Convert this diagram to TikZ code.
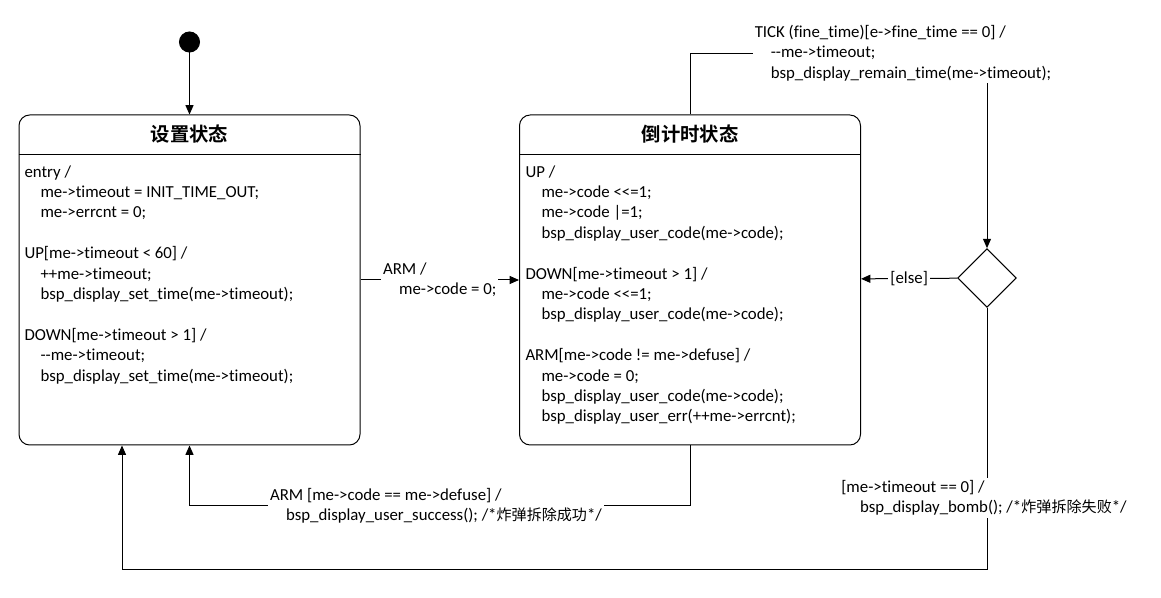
\documentclass[tikz,border=0pt]{standalone}
\usepackage{fontspec}
\setmainfont{Carlito}[Ligatures={TeXOff,CommonOff}]
\newfontfamily\cjk{Noto Sans CJK SC}[BoldFont={Noto Sans CJK SC Bold}]
\usetikzlibrary{arrows.meta,positioning,shapes.geometric}
\tikzset{every picture/.style={line width=0.75pt}}
\newcommand{\codefont}{\fontsize{12.6}{15.3}\selectfont}
\newcommand{\ind}{\hspace*{12pt}}
\newcommand{\zh}[1]{{\cjk\fontsize{11.3}{15.3}\selectfont #1}}
\tikzstyle{circ}=[circle,fill=black,draw,inner sep=0pt,minimum size=15pt]
\tikzstyle{state}=[draw,rounded corners=8pt,minimum width=255.75pt,minimum height=247.5pt]
\tikzstyle{junc}=[diamond,draw,inner sep=0pt,minimum size=44pt]
\tikzstyle{title}=[font=\cjk\bfseries\fontsize{14.5}{17}\selectfont]
\tikzstyle{body}=[align=left,inner sep=0pt,anchor=north west,font=\codefont]
\tikzstyle{lbl}=[fill=white,align=left,inner sep=1.5pt,font=\codefont]

\begin{document}
\begin{tikzpicture}[x=0.75pt,y=-0.75pt,>={Triangle[length=7pt,width=6pt]}]
\useasboundingbox (0,0) rectangle (1161,598);
\node[circ] (init) at (189.5,42) {};
\node[state] (set) at (189.5,280) {};
\node[state] (count) at (690,280) {};
\node[junc] (choice) at (987,278) {};
\draw ([yshift=-30pt]set.north west) -- ([yshift=-30pt]set.north east);
\draw ([yshift=-30pt]count.north west) -- ([yshift=-30pt]count.north east);
\node[title] (settitle) at (189.5,134) {设置状态};
\node[title] (counttitle) at (690,134) {倒计时状态};
\node[body] (setbody) at (24,165) {entry /\\
\ind me->timeout = INIT\_TIME\_OUT;\\
\ind me->errcnt = 0;\\[15.3pt]
UP[me->timeout < 60] /\\
\ind ++me->timeout;\\
\ind bsp\_display\_set\_time(me->timeout);\\[15.3pt]
DOWN[me->timeout > 1] /\\
\ind --me->timeout;\\
\ind bsp\_display\_set\_time(me->timeout);};
\node[body] (countbody) at (525,165) {UP /\\
\ind me->code <<=1;\\
\ind me->code |=1;\\
\ind bsp\_display\_user\_code(me->code);\\[15.3pt]
DOWN[me->timeout > 1] /\\
\ind me->code <<=1;\\
\ind bsp\_display\_user\_code(me->code);\\[15.3pt]
ARM[me->code != me->defuse] /\\
\ind me->code = 0;\\
\ind bsp\_display\_user\_code(me->code);\\
\ind bsp\_display\_user\_err(++me->errcnt);};
\path[->]
(init) edge (set)
(set) edge node[lbl] {ARM /\\ \ind me->code = 0;} (count)
(choice) edge node[lbl] {[else]} (count);
% TICK loop to the choice
\coordinate (tickL) at (690,54);
\coordinate (tickR) at (987,54);
\draw[->] (count.north) -- (tickL) -- (tickR) -- (choice.north);
\node[lbl] (ticklbl) at (903,53) {TICK (fine\_time)[e->fine\_time == 0] /\\
\ind --me->timeout;\\
\ind bsp\_display\_remain\_time(me->timeout);};
% defused
\coordinate (succC) at (189.5,506);
\draw[->] (count.south) |- (succC) -- (set.south);
\node[lbl] (succlbl) at (436,506) {ARM [me->code == me->defuse] /\\
\ind bsp\_display\_user\_success(); /*\zh{炸弹拆除成功}*/};
% bomb
\coordinate (bombC) at (122,570);
\draw[->] (choice.south) |- (bombC) -- (bombC |- set.south);
\node[lbl] (bomblbl) at (984,498) {[me->timeout == 0] /\\
\hspace*{14pt}bsp\_display\_bomb(); /*\zh{炸弹拆除失败}*/};
\end{tikzpicture}
\end{document}
